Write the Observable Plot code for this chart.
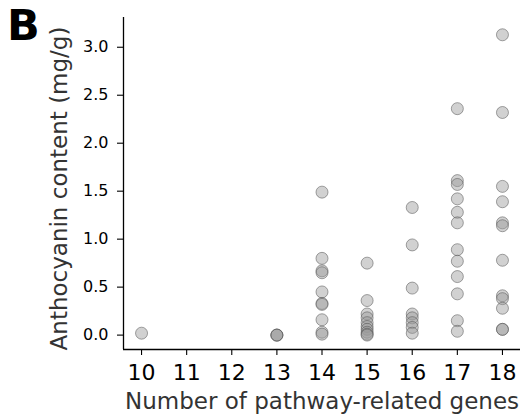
<!DOCTYPE html>
<html><head><meta charset="utf-8">
<script src="https://cdn.jsdelivr.net/npm/d3@7"></script>
<script src="https://cdn.jsdelivr.net/npm/@observablehq/plot@0.6"></script>
<style>
body{margin:0;background:#fff;}
#wrap{position:relative;width:522px;height:416px;}
#tag{position:absolute;left:7px;top:4px;font:bold 43px "DejaVu Sans";color:#000;line-height:1;}
#wrap svg{position:absolute;left:0;top:0;}
</style></head><body>
<div id="wrap"><div id="tag">B</div></div>
<script>
// Number of pathway-related genes per accession and anthocyanin content (mg/g)
const geneCounts = [10, 13, 14, 15, 16, 17, 18];
const genes10 = [0.02];
const genes13 = [0.0, 0.0, 0.0];
const genes14 = [1.49, 0.80, 0.67, 0.65, 0.45, 0.33, 0.32, 0.16, 0.03, 0.01];
const genes15 = [0.75, 0.36, 0.22, 0.18, 0.13, 0.09, 0.06, 0.03, 0.01, 0.0];
const genes16 = [1.33, 0.94, 0.49, 0.22, 0.18, 0.13, 0.08, 0.02];
const genes17 = [2.36, 1.61, 1.57, 1.42, 1.28, 1.17, 0.89, 0.77, 0.61, 0.43, 0.15, 0.04];
const genes18 = [3.13, 2.32, 1.55, 1.39, 1.17, 1.14, 0.78, 0.41, 0.38, 0.28, 0.06, 0.06];
const xTicks = [10, 11, 12, 13, 14, 15, 16, 17, 18];
const yTicks = [0.0, 0.5, 1.0, 1.5, 2.0, 2.5, 3.0];
const xLabel = "Number of pathway-related genes";
const yLabel = "Anthocyanin content (mg/g)";

const series = [genes10, genes13, genes14, genes15, genes16, genes17, genes18];
const points = series.flatMap((vals, i) => vals.map(v => ({genes: geneCounts[i], content: v})));

const xDomain = [9.6, 18.4];
const yDomain = [-0.15, 3.31];

const chart = Plot.plot({
  width: 522, height: 416,
  marginLeft: 123, marginRight: 2, marginTop: 17, marginBottom: 67,
  style: {fontFamily: "DejaVu Sans", background: "transparent", color: "#000", overflow: "visible"},
  x: {domain: xDomain},
  y: {domain: yDomain},
  marks: [
    Plot.ruleX([xDomain[0]], {stroke: "#000", strokeWidth: 1.3}),
    Plot.ruleY([yDomain[0]], {stroke: "#000", strokeWidth: 1.3}),
    Plot.axisX({ticks: xTicks, tickSize: 6, tickPadding: 9, fontSize: 22, label: null, tickFormat: d => String(d), stroke: "#000", strokeWidth: 1.1}),
    Plot.axisY({ticks: yTicks, tickSize: 6, tickPadding: 9, fontSize: 16, label: null, tickFormat: d3.format(".1f"), stroke: "#000", strokeWidth: 1.1}),
    Plot.dot(points, {x: "genes", y: "content", r: 6, fill: "#999", fillOpacity: 0.45, stroke: "#555", strokeOpacity: 0.6, strokeWidth: 0.9}),
    Plot.text([xLabel], {frameAnchor: "bottom", dy: 59, fontSize: 23, fill: "#333"}),
    Plot.text([yLabel], {frameAnchor: "left", textAnchor: "middle", rotate: -90, dx: -64, dy: 5, fontSize: 23, fill: "#333"})
  ]
});
document.getElementById("wrap").appendChild(chart);
</script>
</body></html>
